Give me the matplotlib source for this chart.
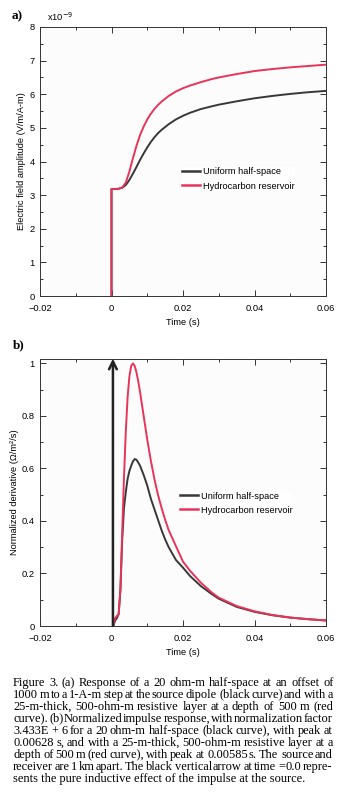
import matplotlib
matplotlib.use("Agg")
import matplotlib.pyplot as plt
from matplotlib.ticker import MultipleLocator, FuncFormatter
from matplotlib.font_manager import FontProperties

# ---------------- data ----------------
t_a = [0.0, 0.0, 0.001, 0.002, 0.003, 0.004, 0.005, 0.006, 0.007, 0.008,
       0.009, 0.010, 0.011, 0.012, 0.013, 0.014, 0.016, 0.018, 0.020,
       0.022, 0.025, 0.028, 0.030, 0.035, 0.040, 0.045, 0.050, 0.055, 0.060]
uniform_a = [0.0, 3.18, 3.18, 3.19, 3.22, 3.30, 3.45, 3.64, 3.84, 4.05,
             4.24, 4.42, 4.58, 4.72, 4.84, 4.94, 5.11, 5.25, 5.36,
             5.45, 5.56, 5.64, 5.69, 5.79, 5.88, 5.95, 6.01, 6.06, 6.10]
reservoir_a = [0.0, 3.18, 3.18, 3.19, 3.23, 3.37, 3.70, 4.10, 4.47, 4.79,
               5.04, 5.25, 5.42, 5.56, 5.68, 5.78, 5.95, 6.08, 6.18,
               6.26, 6.36, 6.45, 6.50, 6.60, 6.69, 6.75, 6.80, 6.84, 6.88]

t_b = [0.0005, 0.001, 0.0015, 0.002, 0.0025, 0.003, 0.0035, 0.004, 0.0045,
       0.005, 0.0055, 0.006, 0.0065, 0.007, 0.0075, 0.008, 0.009, 0.010,
       0.011, 0.012, 0.013, 0.014, 0.015, 0.016, 0.018, 0.020, 0.022,
       0.025, 0.028, 0.030, 0.035, 0.040, 0.045, 0.050, 0.055, 0.060]
uniform_b = [0.0, 0.02, 0.03, 0.045, 0.14, 0.33, 0.45, 0.51, 0.56,
             0.59, 0.61, 0.627, 0.636, 0.633, 0.622, 0.61, 0.575, 0.535,
             0.485, 0.445, 0.405, 0.365, 0.33, 0.30, 0.252, 0.222, 0.19,
             0.152, 0.122, 0.104, 0.073, 0.054, 0.041, 0.032, 0.026, 0.021]
reservoir_b = [0.0, 0.03, 0.038, 0.045, 0.14, 0.36, 0.57, 0.74, 0.87,
               0.95, 0.99, 1.0, 0.99, 0.965, 0.93, 0.89, 0.80, 0.71,
               0.63, 0.56, 0.50, 0.45, 0.405, 0.365, 0.305, 0.245, 0.21,
               0.165, 0.128, 0.108, 0.076, 0.056, 0.042, 0.032, 0.026, 0.021]
arrow_time = 0.0004
arrow_top = 1.018

series_labels = ["Uniform half-space", "Hydrocarbon reservoir"]
xlabel = "Time (s)"
ylabel_a = "Electric field amplitude (V/m/A-m)"
ylabel_b = "Normalized derivative (\u03a9/m\u00b2/s)"

caption_lines = [
    "Figure 3. (a) Response of a 20 ohm-m half-space at an offset of",
    "1000 m to a 1-A-m step at the source dipole (black curve) and with a",
    "25-m-thick, 500-ohm-m resistive layer at a depth of 500 m (red",
    "curve). (b) Normalized impulse response, with normalization factor",
    "3.433E + 6 for a 20 ohm-m half-space (black curve), with peak at",
    "0.00628 s, and with a 25-m-thick, 500-ohm-m resistive layer at a",
    "depth of 500 m (red curve), with peak at 0.00585 s. The source and",
    "receiver are 1 km apart. The black vertical arrow at time = 0.0 repre-",
    "sents the pure inductive effect of the impulse at the source.",
]

# ---------------- style ----------------
W, H, DPI = 344, 800, 100
BLACK = "#383838"
RED = "#e8345a"
SANS = ["Liberation Sans", "DejaVu Sans"]
SERIF = ["Liberation Serif", "DejaVu Serif"]
FS = 6.7

plt.rcParams["font.family"] = SANS
plt.rcParams["axes.linewidth"] = 0.7
plt.rcParams["axes.edgecolor"] = "#333333"

fig = plt.figure(figsize=(W / DPI, H / DPI), dpi=DPI)
fig.patch.set_facecolor("white")

def px_axes(l, t, r, b):
    return fig.add_axes([l / W, 1 - b / H, (r - l) / W, (b - t) / H])

ax_a = px_axes(40, 27, 326, 296)
ax_b = px_axes(40, 358.7, 326, 626)

def fmt_x(v, pos):
    if abs(v) < 1e-12:
        return "0"
    return f"{v:.2f}".replace("-", "\u2212")

def style(ax, ymaj, ymin, yfmt):
    ax.set_facecolor("#fcfcfc")
    ax.set_xlim(-0.02, 0.06)
    ax.xaxis.set_major_locator(MultipleLocator(0.02))
    ax.xaxis.set_minor_locator(MultipleLocator(0.01))
    ax.yaxis.set_major_locator(MultipleLocator(ymaj))
    ax.yaxis.set_minor_locator(MultipleLocator(ymin))
    ax.xaxis.set_major_formatter(FuncFormatter(fmt_x))
    ax.yaxis.set_major_formatter(FuncFormatter(yfmt))
    ax.tick_params(which="both", direction="in", top=True, right=True,
                   labelsize=FS, colors="#333333", labelcolor="black",
                   width=0.7)
    ax.tick_params(axis="x", which="both", pad=5.5)
    ax.tick_params(axis="y", which="both", pad=4)
    ax.tick_params(which="major", length=4.5)
    ax.tick_params(which="minor", length=2.5)
    ax.set_xlabel(xlabel, fontsize=FS, labelpad=4)

def fmt_int(v, pos):
    return f"{v:.0f}"

def fmt_b(v, pos):
    if abs(v) < 1e-12:
        return "0"
    if abs(v - 1) < 1e-12:
        return "1"
    return f"{v:.1f}"

def add_legend(ax, anchor):
    leg = ax.legend(loc="upper left", bbox_to_anchor=anchor,
                    frameon=True, fontsize=FS, handlelength=1.95,
                    handletextpad=0.35, labelspacing=0.55, borderpad=0,
                    borderaxespad=0)
    leg.get_frame().set_facecolor("white")
    leg.get_frame().set_edgecolor("none")
    for line in leg.get_lines():
        line.set_linewidth(1.8)
    return leg

# ----- panel a -----
style(ax_a, 1, 0.5, fmt_int)
ax_a.set_ylim(0, 8)
ax_a.plot(t_a, uniform_a, color=BLACK, lw=1.4, label=series_labels[0])
ax_a.plot(t_a, reservoir_a, color=RED, lw=1.4, label=series_labels[1])
ax_a.set_ylabel(ylabel_a, fontsize=FS, labelpad=2)
add_legend(ax_a, (0.4965, 0.478))
fig.text(47 / W, 1 - 17 / H, "x10$^{-9}$", fontsize=FS, va="center", ha="left")
fig.text(12 / W, 1 - 16 / H, "a)", fontsize=9.5, fontweight="bold",
         family=SERIF, va="center", ha="left")

# ----- panel b -----
style(ax_b, 0.2, 0.1, fmt_b)
ax_b.set_ylim(0, arrow_top)
ax_b.plot(t_b, uniform_b, color=BLACK, lw=1.4, label=series_labels[0])
ax_b.plot(t_b, reservoir_b, color=RED, lw=1.4, label=series_labels[1])
ax_b.annotate("", xy=(arrow_time, arrow_top), xytext=(arrow_time, 0),
              arrowprops=dict(arrowstyle="->", lw=1.8, color="#222222",
                              mutation_scale=14, shrinkA=0, shrinkB=0))
ax_b.set_ylabel(ylabel_b, fontsize=FS, labelpad=2)
add_legend(ax_b, (0.4895, 0.503))
fig.text(13 / W, 1 - 345 / H, "b)", fontsize=9.5, fontweight="bold",
         family=SERIF, va="center", ha="left")

# ----- caption (justified word by word, consistent pixel baselines) -----
left_px, right_px = 13, 333
base0_px, dy_px = 686, 12
renderer = fig.canvas.get_renderer()

def width_px(s, fs):
    t = fig.text(0, 0, s, fontsize=fs, family=SERIF)
    w = t.get_window_extent(renderer).width
    t.remove()
    return w

ref_fs = 10.0
ratios = sorted((right_px - left_px) / width_px(l, ref_fs) for l in caption_lines[:-1])
CAP_FS = ref_fs * ratios[len(ratios) // 2] * 1.02
cap_prop = FontProperties(family=SERIF, size=CAP_FS)

def word_baseline(s, base):
    """Pixel row (from top) to request so the rasterised word sits on `base`,
    compensating the integer rounding of the Agg text bitmap."""
    try:
        from matplotlib.backends.backend_agg import get_hinting_flag
        f = renderer._prepare_font(cap_prop)
        f.set_text(s, 0, flags=get_hinting_flag())
        _, h26 = f.get_width_height()
        d26 = f.get_descent()
        h_int = h26 // 64
        floor_ymax = (h26 - d26) // 64
        e = round(base + d26 / 64.0) - base - h_int + floor_ymax
        return base - e
    except Exception:
        return base

for i, line in enumerate(caption_lines):
    words = line.split(" ")
    last = i == len(caption_lines) - 1
    base = base0_px + i * dy_px
    if last:
        fig.text(left_px / W, 1 - word_baseline(line, base) / H, line,
                 fontsize=CAP_FS, family=SERIF, va="baseline", ha="left")
        continue
    widths = [width_px(w, CAP_FS) for w in words]
    gap = (right_px - left_px - sum(widths)) / (len(words) - 1)
    x = left_px
    for w, wd in zip(words, widths):
        y = 1 - word_baseline(w, base) / H
        fig.text(round(x) / W, y, w, fontsize=CAP_FS, family=SERIF,
                 va="baseline", ha="left")
        x += wd + gap

fig.savefig("out.png", dpi=DPI, facecolor="white")
